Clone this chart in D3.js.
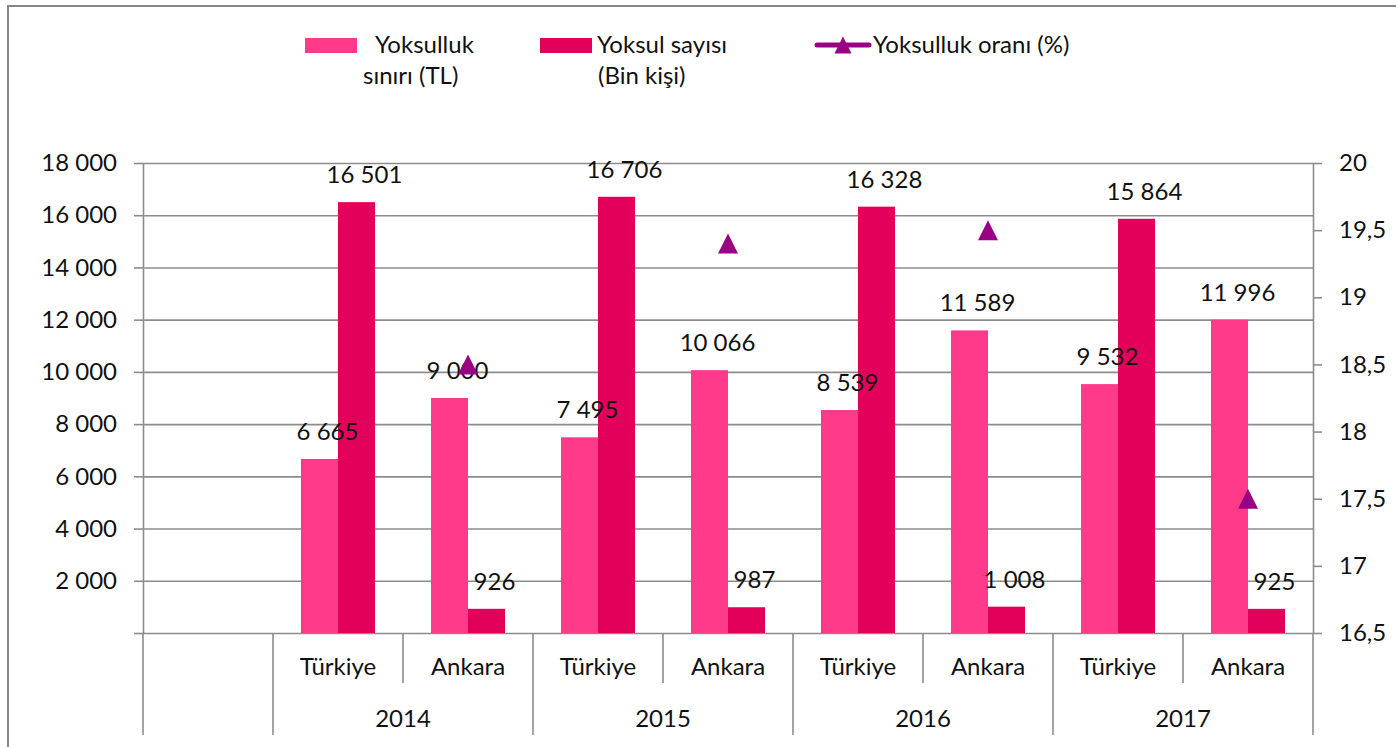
<!DOCTYPE html>
<html>
<head>
<meta charset="utf-8">
<script src="https://cdn.jsdelivr.net/npm/d3@7"></script>
<style>
    body { margin: 0; background: #ffffff; }
    svg { display: block; font-family: Lato, "Open Sans", sans-serif; }
</style>
</head>
<body>
<div id="chart"></div>
<script>
// chart data
const categoryYears = ["", "2014", "2014", "2015", "2015", "2016", "2016", "2017", "2017"];
const categoryPlaces = ["", "Türkiye", "Ankara", "Türkiye", "Ankara", "Türkiye", "Ankara", "Türkiye", "Ankara"];
const povertyLine = [null, 6665, 9000, 7495, 10066, 8539, 11589, 9532, 11996];
const poorCount = [null, 16501, 926, 16706, 987, 16328, 1008, 15864, 925];
const povertyRate = [null, null, 18.5, null, 19.4, null, 19.5, null, 17.5];
const leftTicks = [0, 2000, 4000, 6000, 8000, 10000, 12000, 14000, 16000, 18000];
const rightTicks = [16.5, 17, 17.5, 18, 18.5, 19, 19.5, 20];
const legendLines = [["Yoksulluk", "sınırı (TL)"], ["Yoksul sayısı", "(Bin kişi)"], ["Yoksulluk oranı (%)"]];

drawChart("#chart");

function drawChart(container) {
    const config = {
        width: 1396,
        height: 747,
        left: 143,
        right: 1313,
        top: 163,
        bottom: 633,
        placeRow: 683,
        axisEnd: 735,
        barColors: ["#ff3a8a", "#e3005a"],
        markerColor: "#990083",
        lineColor: "#8c8c8c",
        textColor: "#111111",
        fontSize: "24px"
    };

    const locale = d3.formatLocale({ decimal: ",", thousands: " ", grouping: [3], currency: ["", ""] });
    const fmtInt = locale.format(",d");
    const fmtRate = locale.format(".3~g");

    const svg = d3.select(container).append("svg")
        .attr("width", config.width)
        .attr("height", config.height);

    // outer frame of the chart
    svg.append("rect")
        .attr("x", 8).attr("y", 6)
        .attr("width", config.width).attr("height", config.height)
        .attr("fill", "none")
        .attr("stroke", "#868686")
        .attr("stroke-width", 2);

    // scales
    const x0 = d3.scaleBand()
        .domain(d3.range(categoryYears.length))
        .range([config.left, config.right]);
    const x1 = d3.scaleBand()
        .domain([0, 1])
        .range([0, x0.bandwidth()])
        .paddingOuter(0.757);
    const yLeft = d3.scaleLinear().domain([0, 18000]).range([config.bottom, config.top]);
    const yRight = d3.scaleLinear().domain([16.5, 20]).range([config.bottom, config.top]);

    // gridlines
    const grid = svg.append("g")
        .attr("transform", `translate(${config.left},0)`)
        .call(d3.axisLeft(yLeft).tickValues(leftTicks).tickSize(-(config.right - config.left)).tickFormat(""));
    grid.select(".domain").remove();
    grid.selectAll("line").attr("stroke", config.lineColor).attr("stroke-width", 1.6);

    // left axis
    const leftAxis = svg.append("g")
        .attr("transform", `translate(${config.left},0)`)
        .call(d3.axisLeft(yLeft).tickValues(leftTicks).tickSize(9).tickSizeOuter(0).tickPadding(17)
            .tickFormat(d => d === 0 ? "" : fmtInt(d)));

    // right axis
    const rightAxis = svg.append("g")
        .attr("transform", `translate(${config.right},0)`)
        .call(d3.axisRight(yRight).tickValues(rightTicks).tickSize(9).tickSizeOuter(0).tickPadding(17)
            .tickFormat(fmtRate));

    [leftAxis, rightAxis].forEach(ax => {
        ax.selectAll("line, .domain").attr("stroke", config.lineColor).attr("stroke-width", 1.6);
        ax.selectAll("text")
            .attr("font-size", config.fontSize)
            .attr("font-family", "Lato, 'Open Sans', sans-serif")
            .attr("fill", config.textColor);
    });

    // category axis: separators and labels
    const catAxis = svg.append("g").classed("category-axis", true);
    const groups = [];
    categoryYears.forEach((yr, i) => {
        const last = groups[groups.length - 1];
        if (last && last.year === yr) last.end = i;
        else groups.push({ year: yr, start: i, end: i });
    });

    d3.range(categoryYears.length + 1).forEach(i => {
        const x = i < categoryYears.length ? x0(i) : config.right;
        const isGroupEdge = i === categoryYears.length || groups.some(g => g.start === i);
        catAxis.append("line")
            .attr("x1", x).attr("x2", x)
            .attr("y1", config.bottom)
            .attr("y2", isGroupEdge ? config.axisEnd : config.placeRow)
            .attr("stroke", config.lineColor)
            .attr("stroke-width", 1.6);
    });

    catAxis.selectAll(".place")
        .data(categoryPlaces)
        .enter()
        .append("text")
        .attr("x", (d, i) => x0(i) + x0.bandwidth() / 2)
        .attr("y", 675)
        .attr("text-anchor", "middle")
        .attr("font-size", config.fontSize)
        .attr("fill", config.textColor)
        .text(d => d);

    catAxis.selectAll(".year")
        .data(groups)
        .enter()
        .append("text")
        .attr("x", d => (x0(d.start) + x0(d.end) + x0.bandwidth()) / 2)
        .attr("y", 727)
        .attr("text-anchor", "middle")
        .attr("font-size", config.fontSize)
        .attr("fill", config.textColor)
        .text(d => d.year);

    // bars and value labels
    const barSeries = [povertyLine, poorCount];
    const bars = svg.append("g").classed("bars", true);
    const labels = svg.append("g").classed("labels", true);
    barSeries.forEach((values, s) => {
        values.forEach((v, i) => {
            if (v === null) return;
            const bx = x0(i) + x1(s);
            bars.append("rect")
                .attr("x", bx)
                .attr("y", yLeft(v))
                .attr("width", x1.bandwidth())
                .attr("height", config.bottom - yLeft(v))
                .attr("fill", config.barColors[s]);
            labels.append("text")
                .attr("x", bx + x1.bandwidth() / 2 + 8)
                .attr("y", yLeft(v) - 19)
                .attr("text-anchor", "middle")
                .attr("font-size", config.fontSize)
                .attr("fill", config.textColor)
                .text(fmtInt(v));
        });
    });

    // rate markers (right axis)
    const triangle = "M0,-10L10,10L-10,10Z";
    svg.append("g").classed("markers", true)
        .selectAll("path")
        .data(povertyRate.map((v, i) => ({ v, i })).filter(d => d.v !== null))
        .enter()
        .append("path")
        .attr("d", triangle)
        .attr("transform", d => `translate(${x0(d.i) + x0.bandwidth() / 2},${yRight(d.v)})`)
        .attr("fill", config.markerColor);

    // legend
    const legend = svg.append("g").classed("legend", true);
    legend.append("rect").attr("x", 305).attr("y", 38).attr("width", 52).attr("height", 15).attr("fill", config.barColors[0]);
    legend.append("rect").attr("x", 540).attr("y", 38).attr("width", 52).attr("height", 15).attr("fill", config.barColors[1]);
    legend.append("line")
        .attr("x1", 817).attr("x2", 869).attr("y1", 45).attr("y2", 45)
        .attr("stroke", config.markerColor).attr("stroke-width", 5).attr("stroke-linecap", "round");
    legend.append("path").attr("d", triangle).attr("transform", "translate(843,45) scale(0.85)").attr("fill", config.markerColor);

    const legendX = [[375, 363], [597, 598], [873]];
    legendLines.forEach((lines, k) => {
        lines.forEach((line, j) => {
            legend.append("text")
                .attr("x", legendX[k][j])
                .attr("y", 53 + j * 31)
                .attr("font-size", config.fontSize)
                .attr("fill", config.textColor)
                .text(line);
        });
    });
}
</script>
</body>
</html>
